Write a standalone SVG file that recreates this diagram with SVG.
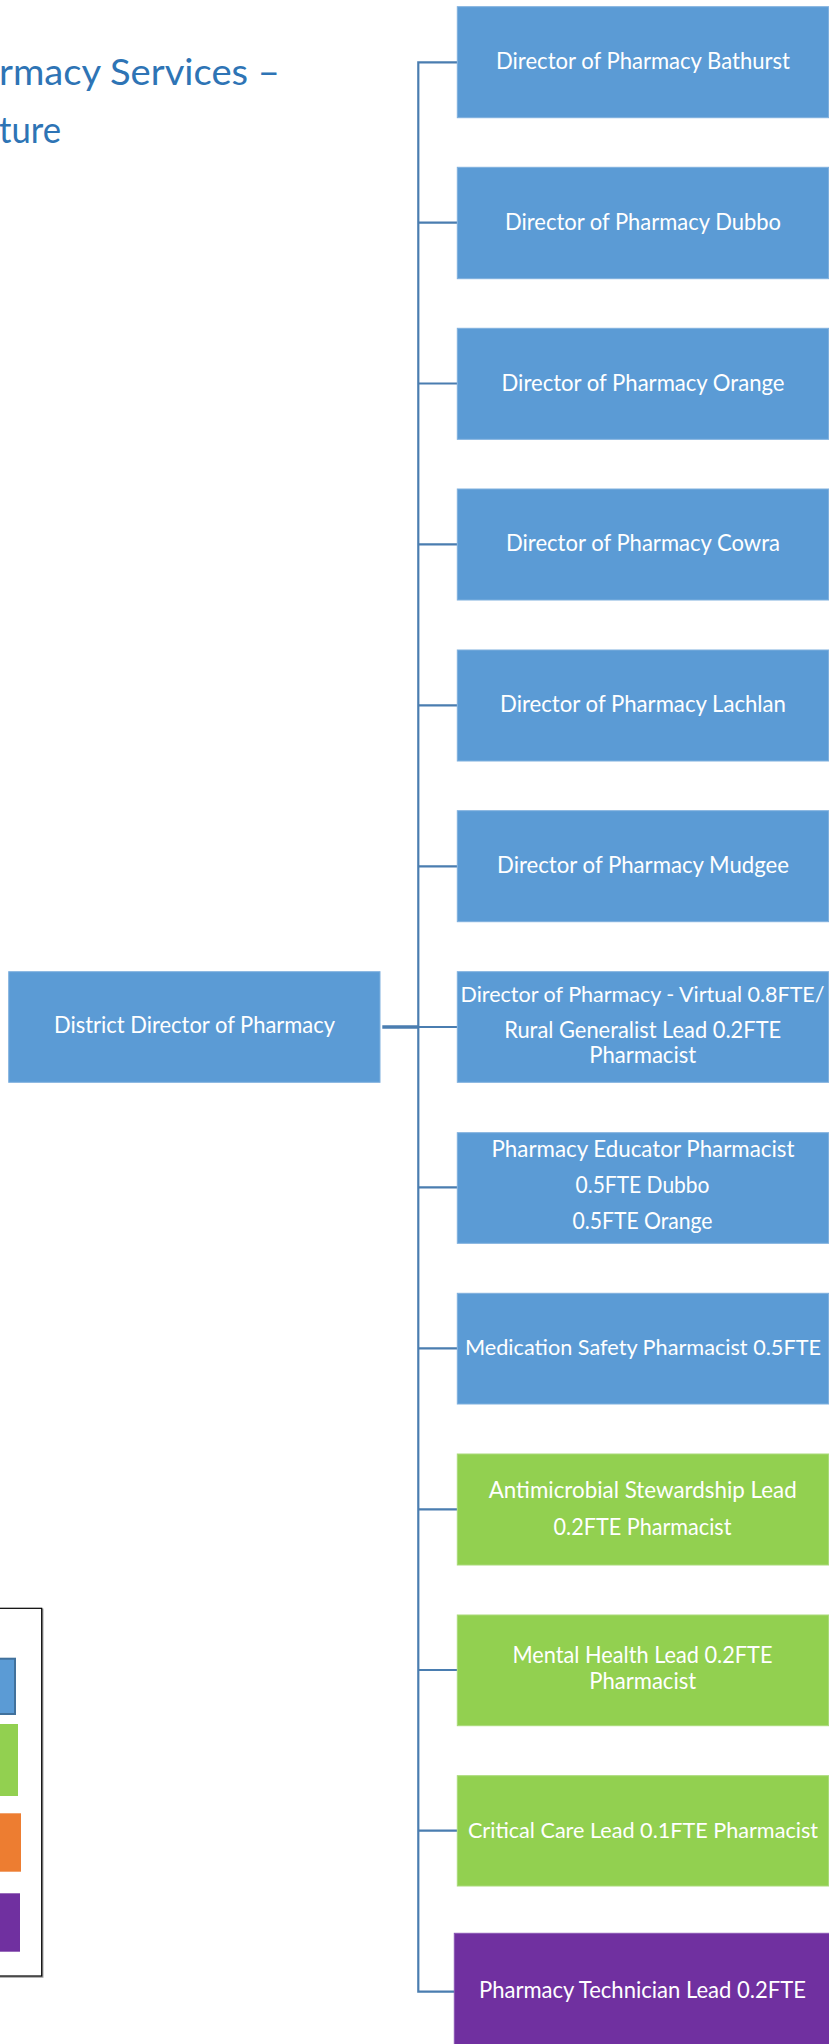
<svg xmlns="http://www.w3.org/2000/svg" width="829" height="2044" viewBox="0 0 829 2044">
<style>
.t{font-family:Lato,"Open Sans","Liberation Sans",sans-serif;font-size:23px;fill:#ffffff;text-anchor:middle}
.s{font-size:21px}
.title{font-family:Lato,"Open Sans","Liberation Sans",sans-serif;font-weight:400;font-size:37px;fill:#2E74B5}
.blue{fill:#5B9BD5;stroke:#7FB0DE;stroke-width:1}
.green{fill:#92D050;stroke:#A9DA78;stroke-width:1}
.purple{fill:#7030A0;stroke:#8A55B3;stroke-width:1}
.conn{fill:none;stroke:#4A7DB0;stroke-width:2.2}
</style>
<rect width="829" height="2044" fill="#ffffff"/>
<g id="title">
<text class="title" x="-1" y="85" textLength="281" lengthAdjust="spacingAndGlyphs">rmacy Services –</text>
<text class="title" x="-1" y="143" textLength="62" lengthAdjust="spacingAndGlyphs">ture</text>
</g>
<g id="connectors">
<path class="conn" d="M457 62.3 H418.3 V1991.7 H455"/>
<path class="conn" d="M418.3 222.7 H457 M418.3 383.5 H457 M418.3 544.3 H457 M418.3 705.3 H457 M418.3 866.3 H457 M418.3 1027 H457 M418.3 1187.3 H457 M418.3 1348.3 H457 M418.3 1509.3 H457 M418.3 1670 H457 M418.3 1830.7 H457"/>
<path class="conn" d="M382.3 1027 H418.3" style="stroke-width:3.5"/>
</g>
<g id="district">
<rect class="blue" x="8.7" y="971.7" width="371.3" height="110.6"/>
<text class="t" x="194.5" y="1033.3" textLength="281" lengthAdjust="spacingAndGlyphs">District Director of Pharmacy</text>
</g>
<g id="bathurst">
<rect class="blue" x="457.3" y="6.7" width="371.2" height="111"/>
<text class="t" x="643" y="69.3" textLength="294" lengthAdjust="spacingAndGlyphs">Director of Pharmacy Bathurst</text>
</g>
<g id="dubbo">
<rect class="blue" x="457.3" y="167.3" width="371.2" height="111.4"/>
<text class="t" x="643" y="229.7" textLength="276" lengthAdjust="spacingAndGlyphs">Director of Pharmacy Dubbo</text>
</g>
<g id="orange">
<rect class="blue" x="457.3" y="328.3" width="371.2" height="111"/>
<text class="t" x="643" y="390.7" textLength="283" lengthAdjust="spacingAndGlyphs">Director of Pharmacy Orange</text>
</g>
<g id="cowra">
<rect class="blue" x="457.3" y="489" width="371.2" height="111"/>
<text class="t" x="643" y="550.7" textLength="274" lengthAdjust="spacingAndGlyphs">Director of Pharmacy Cowra</text>
</g>
<g id="lachlan">
<rect class="blue" x="457.3" y="650" width="371.2" height="111"/>
<text class="t" x="643" y="711.7" textLength="286" lengthAdjust="spacingAndGlyphs">Director of Pharmacy Lachlan</text>
</g>
<g id="mudgee">
<rect class="blue" x="457.3" y="810.7" width="371.2" height="111"/>
<text class="t" x="643" y="872.7" textLength="292" lengthAdjust="spacingAndGlyphs">Director of Pharmacy Mudgee</text>
</g>
<g id="virtual">
<rect class="blue" x="457.3" y="971.7" width="371.2" height="110.6"/>
<text class="t s" x="642.5" y="1001.7" textLength="364" lengthAdjust="spacingAndGlyphs">Director of Pharmacy - Virtual 0.8FTE/</text>
<text class="t" x="642.7" y="1038.3" textLength="277" lengthAdjust="spacingAndGlyphs">Rural Generalist Lead 0.2FTE</text>
<text class="t" x="642.7" y="1063.3" textLength="107" lengthAdjust="spacingAndGlyphs">Pharmacist</text>
</g>
<g id="educator">
<rect class="blue" x="457.3" y="1132.7" width="371.2" height="110.6"/>
<text class="t" x="643" y="1156.7" textLength="303" lengthAdjust="spacingAndGlyphs">Pharmacy Educator Pharmacist</text>
<text class="t" x="642.5" y="1193.3" textLength="134" lengthAdjust="spacingAndGlyphs">0.5FTE Dubbo</text>
<text class="t" x="642.5" y="1229.3" textLength="140" lengthAdjust="spacingAndGlyphs">0.5FTE Orange</text>
</g>
<g id="medsafety">
<rect class="blue" x="457.3" y="1293.3" width="371.2" height="110.7"/>
<text class="t s" x="643" y="1355" textLength="356" lengthAdjust="spacingAndGlyphs">Medication Safety Pharmacist 0.5FTE</text>
</g>
<g id="antimicrobial">
<rect class="green" x="457.3" y="1454" width="371.2" height="111"/>
<text class="t" x="642.7" y="1498.3" textLength="308" lengthAdjust="spacingAndGlyphs">Antimicrobial Stewardship Lead</text>
<text class="t" x="642.5" y="1535" textLength="178" lengthAdjust="spacingAndGlyphs">0.2FTE Pharmacist</text>
</g>
<g id="mentalhealth">
<rect class="green" x="457.3" y="1615" width="371.2" height="110.7"/>
<text class="t" x="642.5" y="1663.3" textLength="260" lengthAdjust="spacingAndGlyphs">Mental Health Lead 0.2FTE</text>
<text class="t" x="642.7" y="1689.3" textLength="107" lengthAdjust="spacingAndGlyphs">Pharmacist</text>
</g>
<g id="criticalcare">
<rect class="green" x="457.3" y="1775.7" width="371.2" height="110.3"/>
<text class="t s" x="643" y="1838.3" textLength="350" lengthAdjust="spacingAndGlyphs">Critical Care Lead 0.1FTE Pharmacist</text>
</g>
<g id="technician">
<rect class="purple" x="454.3" y="1933.3" width="380" height="120"/>
<text class="t" x="642.5" y="1998.3" textLength="327" lengthAdjust="spacingAndGlyphs">Pharmacy Technician Lead 0.2FTE</text>
</g>
<g id="legend">
<rect x="-5" y="1609.3" width="47.7" height="367.7" fill="none" stroke="#9a9a9a" stroke-width="1.5"/>
<rect x="-5" y="1608.3" width="46.7" height="367.7" fill="#ffffff" stroke="#000000" stroke-width="1.2"/>
<rect x="-5" y="1658.7" width="20" height="55.3" fill="#5B9BD5" stroke="#41719C" stroke-width="2"/>
<rect x="-5" y="1724" width="23" height="72" fill="#92D050"/>
<rect x="-5" y="1813.3" width="26" height="58.4" fill="#ED7D31"/>
<rect x="-5" y="1893.3" width="25" height="58.4" fill="#7030A0"/>
</g>
</svg>
